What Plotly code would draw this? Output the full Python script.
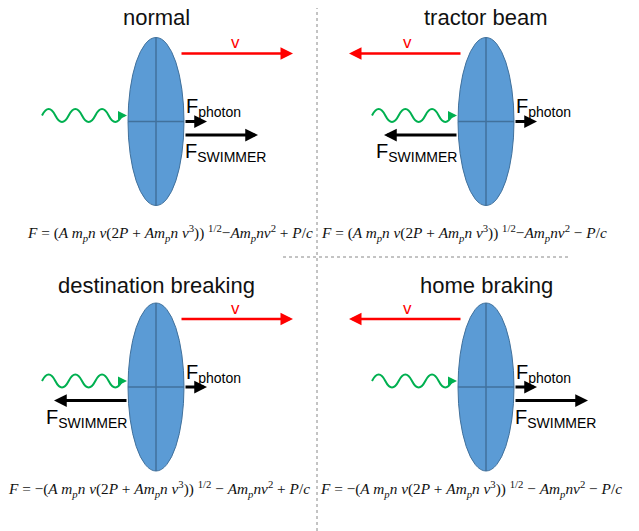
import plotly.graph_objects as go

# ---- diagram content ----
titles = ["normal", "tractor beam", "destination breaking", "home braking"]
v_dir = [1, -1, 1, -1]          # direction of velocity arrow
photon_dir = [1, 1, 1, 1]       # direction of photon force
swimmer_dir = [1, -1, -1, 1]    # direction of swimmer force
signs_root = ["", "", "−", "−"]
signs_pc = ["+", "−", "+", "−"]

# ---- geometry (pixels) ----
W, H = 639, 531
PAGE_OFF = 8  # default body margin of the html page
centers = [(156, 121.5), (486, 121.5), (156, 387), (486, 387)]
title_dy = [-104.5, -104.5, -102, -102]
formula_pos = [(170, 233), (464, 233), (159, 489), (471, 489)]

BLUE = "#5B9BD5"
BLUE_DARK = "#41719C"
RED = "#FF0000"
GREEN = "#00B050"
FONT = "Liberation Sans, Arial, sans-serif"

fig = go.Figure()
shapes = []
ann = []


def arrow(x0, y0, x1, y1, color, width, size=1.0, head=2):
    ann.append(dict(x=x1, y=y1, ax=x0, ay=y0, xref="x", yref="y", axref="x", ayref="y",
                    text="", showarrow=True, arrowhead=head, arrowsize=size,
                    arrowwidth=width, arrowcolor=color, standoff=0, startstandoff=0))


def formula(i):
    sub_p = "<sub><i>p</i></sub>"
    s = ("<i>F</i> = " + signs_root[i] + "(<i>A m</i>" + sub_p + "<i>n v</i>(2<i>P</i> + <i>Am</i>" + sub_p +
         "<i>n v</i><sup>3</sup>)) <sup>1/2</sup>" + (" − " if signs_root[i] else "−") + "<i>Am</i>" + sub_p +
         "<i>nv</i><sup>2</sup> " + signs_pc[i] + " <i>P</i>/<i>c</i>")
    return s


for i, (cx, cy) in enumerate(centers):
    # title
    ann.append(dict(x=cx, y=cy + title_dy[i], xref="x", yref="y", text=titles[i], showarrow=False,
                    font=dict(family=FONT, size=22, color="#111111"), xanchor="center", yanchor="middle"))
    # velocity arrow
    vd = v_dir[i]
    arrow(cx + vd * 24, cy - 68, cx + vd * 137, cy - 68, RED, 2.5, 1.0)
    ann.append(dict(x=cx + vd * 79, y=cy - 79, xref="x", yref="y", text="v", showarrow=False,
                    font=dict(family=FONT, size=17, color=RED), xanchor="center", yanchor="middle"))
    # wave (photons)
    wx0, wx1, wy = cx - 114, cx - 34, cy - 6
    step = (wx1 - wx0) / 6
    p = f"M {wx0},{wy} Q {wx0 + step / 2},{wy - 13} {wx0 + step},{wy}"
    for k in range(2, 7):
        p += f" T {wx0 + k * step},{wy}"
    shapes.append(dict(type="path", path=p, line=dict(color=GREEN, width=2), xref="x", yref="y"))
    arrow(wx1 - 2, wy, cx - 29, wy, GREEN, 1.5, 1.2)
    # ellipse (sail)
    shapes.append(dict(type="circle", x0=cx - 28, x1=cx + 28, y0=cy - 84, y1=cy + 84,
                       fillcolor=BLUE, line=dict(color=BLUE_DARK, width=1), xref="x", yref="y", layer="above"))
    shapes.append(dict(type="line", x0=cx, x1=cx, y0=cy - 84, y1=cy + 84,
                       line=dict(color=BLUE_DARK, width=1.5), xref="x", yref="y", layer="above"))
    shapes.append(dict(type="line", x0=cx - 28, x1=cx + 28, y0=cy, y1=cy,
                       line=dict(color=BLUE_DARK, width=1.5), xref="x", yref="y", layer="above"))
    # photon force
    arrow(cx + 28, cy, cx + 28 + photon_dir[i] * 23, cy, "black", 3, 0.85)
    ann.append(dict(x=cx + 28, y=cy - 14, xref="x", yref="y", text="F<sub>photon</sub>", showarrow=False,
                    font=dict(family=FONT, size=20, color="black"), xanchor="left", yanchor="middle"))
    # swimmer force
    sd = swimmer_dir[i]
    arrow(cx + sd * 28, cy + 13.5, cx + sd * 102, cy + 13.5, "black", 3, 0.85)
    ann.append(dict(x=cx + sd * 27, y=cy + 31, xref="x", yref="y", text="F<sub>SWIMMER</sub>", showarrow=False,
                    font=dict(family=FONT, size=20, color="black"),
                    xanchor="left" if sd > 0 else "right", yanchor="middle"))
    # formula
    fx, fy = formula_pos[i]
    ann.append(dict(x=fx, y=fy, xref="x", yref="y", text=formula(i), showarrow=False,
                    font=dict(family="Liberation Serif, DejaVu Serif, serif", size=15.3, color="#111111"),
                    xanchor="center", yanchor="middle"))

# divider lines
shapes.append(dict(type="line", x0=317, x1=317, y0=0, y1=H, line=dict(color="#888888", width=1, dash="dot"),
                   xref="x", yref="y", layer="below"))
shapes.append(dict(type="line", x0=283, x1=570, y0=257, y1=257, line=dict(color="#888888", width=1, dash="dot"),
                   xref="x", yref="y", layer="below"))

fig.update_layout(
    width=W, height=H, margin=dict(l=0, r=0, t=0, b=0),
    paper_bgcolor="white", plot_bgcolor="white",
    xaxis=dict(range=[PAGE_OFF, W + PAGE_OFF], visible=False, fixedrange=True),
    yaxis=dict(range=[H + PAGE_OFF, PAGE_OFF], visible=False, fixedrange=True),
    shapes=shapes, annotations=ann, showlegend=False,
)
fig.write_html("out.html")
